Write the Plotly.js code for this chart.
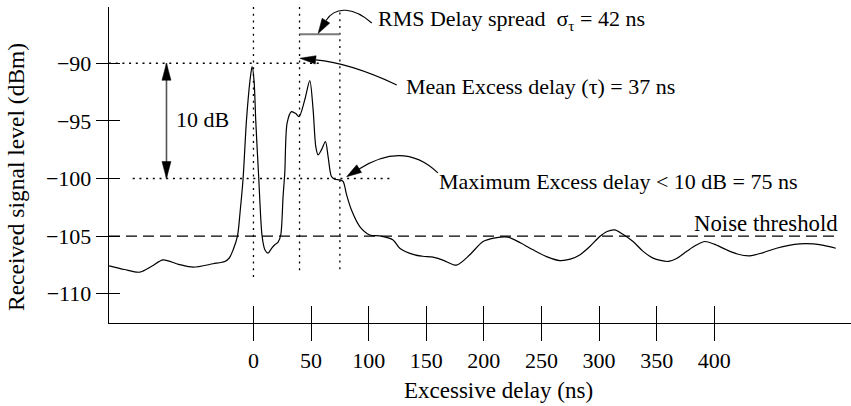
<!DOCTYPE html>
<html><head><meta charset="utf-8">
<script src="https://cdn.plot.ly/plotly-3.0.1.min.js"></script>
<style>html,body{margin:0;padding:0;background:#fff}</style>
</head><body><div id="chart" style="width:851px;height:406px"></div>
<script>
// ---- data ----
const delay = [-125.3, -112, -98.7, -88, -78.5, -65, -52.4, -35, -24.9, -21, -17.7, -13.9, -11.5, -9, -6.1, -3, -1.2, 0.5, 2, 4.6, 7.5, 10, 12.7, 15.5, 18.5, 21.4, 23.7, 25.7, 27.2, 29.2, 33, 36.5, 39.6, 44.5, 48.9, 51.8, 54.1, 56.1, 59, 62.5, 64.8, 67.7, 70.6, 74.9, 77.8, 80.8, 85, 92.3, 101, 109.6, 121.2, 127, 140, 147, 155.9, 165, 176.2, 188, 199.3, 210, 221, 232, 242.7, 255, 265.9, 275, 283.2, 292, 300.6, 307, 313.6, 320, 329.5, 338, 346.9, 359.9, 368, 375.9, 384, 391.8, 400, 410.6, 420, 430.8, 442, 454, 474.2, 485.8, 495, 505.5];
const level = [-107.58, -107.9, -108.13, -107.6, -107.06, -107.45, -107.7, -107.4, -107.2, -106.9, -106.2, -105.0, -102.8, -100.0, -95.0, -91.5, -90.3, -91.5, -95.0, -100.0, -105.0, -106.2, -106.47, -106.1, -105.75, -105.52, -104.89, -101.56, -99.5, -95.2, -94.2, -94.35, -94.63, -93.18, -91.5, -94.05, -97.23, -97.95, -97.52, -96.8, -98.1, -99.83, -100.06, -100.12, -100.26, -101.4, -102.72, -104.17, -104.9, -104.98, -105.33, -106.05, -106.63, -106.75, -106.83, -107.1, -107.52, -106.6, -105.47, -105.15, -105.09, -105.6, -106.19, -106.8, -107.12, -107.0, -106.63, -105.9, -105.04, -104.6, -104.46, -104.8, -105.47, -106.3, -106.91, -107.2, -106.9, -106.34, -105.8, -105.47, -105.7, -106.19, -106.55, -106.71, -106.45, -106.05, -105.67, -105.67, -105.8, -106.05];
const xTicks = [0, 50, 100, 150, 200, 250, 300, 350, 400];
const yTicks = [-110, -105, -100, -95, -90];
const noiseThreshold = -105;
const peakLevel = -90;
const tenDbLevel = -100;
const peakDelay = 0;
const meanDelayLine = 40;
const maxDelayLine = 75;
const rmsBarLevel = -87.48;
const xRange = [-125.4, 518.7];
const yRange = [-112.54, -85.12];

const W = 851, H = 406, M = {l: 109, r: 0, t: 7, b: 83};
const sx = (W - M.l - M.r) / (xRange[1] - xRange[0]);
const sy = (H - M.t - M.b) / (yRange[1] - yRange[0]);

const FONT = 'Liberation Serif, Times New Roman, serif';
const dotted = {color: 'black', width: 1.3, dash: '2px,4.7px'};

// filled arrowhead: tip at data (xd, yd), direction (dx, dy) in screen pixels
function head(xd, yd, dx, dy, len, hw) {
  const m = Math.hypot(dx, dy), ux = dx / m, uy = dy / m;
  const bx = -ux * len, by = -uy * len, nx = -uy, ny = ux;
  const pts = [[bx + nx * hw, by + ny * hw], [bx - nx * hw, by - ny * hw]]
    .map(p => [(xd + p[0] / sx).toFixed(3), (yd - p[1] / sy).toFixed(3)]);
  return {type: 'path', xref: 'x', yref: 'y', layer: 'above',
    path: `M${xd},${yd}L${pts[0][0]},${pts[0][1]}L${pts[1][0]},${pts[1][1]}Z`,
    fillcolor: 'black', line: {color: 'black', width: 0.5}};
}

const shapes = [
  {type: 'line', xref: 'x', yref: 'y', x0: xRange[0], x1: delay[delay.length - 1], y0: noiseThreshold, y1: noiseThreshold,
   line: {color: 'black', width: 1.1, dash: '11px,6px'}},
  {type: 'line', xref: 'x', yref: 'y', x0: peakDelay, x1: peakDelay, y0: yRange[1], y1: -108.6, line: dotted},
  {type: 'line', xref: 'x', yref: 'y', x0: meanDelayLine, x1: meanDelayLine, y0: yRange[1], y1: -108.0, line: dotted},
  {type: 'line', xref: 'x', yref: 'y', x0: maxDelayLine, x1: maxDelayLine, y0: -85.6, y1: -108.0, line: dotted},
  {type: 'line', xref: 'x', yref: 'y', x0: xRange[0], x1: 57.6, y0: peakLevel, y1: peakLevel, line: dotted},
  {type: 'line', xref: 'x', yref: 'y', x0: -104.8, x1: 121, y0: tenDbLevel, y1: tenDbLevel, line: dotted},
  {type: 'line', xref: 'x', yref: 'y', x0: meanDelayLine, x1: maxDelayLine, y0: rmsBarLevel, y1: rmsBarLevel,
   line: {color: '#7a7a7a', width: 2}},
  {type: 'line', xref: 'x', yref: 'y', x0: -75.5, x1: -75.5, y0: peakLevel, y1: tenDbLevel,
   line: {color: '#555', width: 1.6}},
  // curved leader lines
  {type: 'path', xref: 'x', yref: 'y', path: 'M102.7,-86.51 C88.0,-85.21 71.5,-84.94 63.0,-86.29',
   line: {color: 'black', width: 1.1}},
  {type: 'path', xref: 'x', yref: 'y', path: 'M124.4,-91.88 Q83.6,-89.97 54.0,-89.71',
   line: {color: 'black', width: 1.1}},
  {type: 'path', xref: 'x', yref: 'y', path: 'M160.1,-99.51 C137.5,-97.34 113.6,-97.78 91.7,-99.18',
   line: {color: 'black', width: 1.1}},
  head(-75.5, peakLevel, 0, -1, 17, 4.5),
  head(-75.5, tenDbLevel, 0, 1, 17, 4.5),
  head(56.1, -87.42, -8, 13, 15, 4.5),
  head(40.2, -89.57, -16.7, -1.7, 16, 4.2),
  head(80.8, -99.85, -14, 9, 15, 4.5)
];

const txt = (x, y, text) => ({xref: 'x', yref: 'y', x, y, text, showarrow: false, xanchor: 'left', yanchor: 'middle',
  font: {family: FONT, size: 22, color: 'black'}});

const annotations = [
  txt(-69.2, -94.92, '10 dB'),
  txt(106.8, -86.25, 'RMS Delay spread  σ<sub>τ</sub> = 42 ns'),
  txt(130.4, -92.03, 'Mean Excess delay (τ) = 37 ns'),
  txt(158.9, -100.26, 'Maximum Excess delay &lt; 10 dB = 75 ns'),
  Object.assign(txt(380.9, -103.87, 'Noise threshold'), {font: {family: FONT, size: 22.8, color: 'black'}}),
  {xref: 'paper', yref: 'paper', x: 0.5248, y: -0.214, text: 'Excessive delay (ns)', showarrow: false,
   xanchor: 'center', yanchor: 'middle', font: {family: FONT, size: 23, color: 'black'}},
  {xref: 'paper', yref: 'paper', x: -0.1244, y: 0.461, text: 'Received signal level (dBm)', showarrow: false,
   textangle: -90, xanchor: 'center', yanchor: 'middle', font: {family: FONT, size: 23.5, color: 'black'}}
];

const traces = [
  {type: 'scatter', mode: 'lines', x: delay, y: level, line: {color: 'black', width: 1.2, shape: 'spline', smoothing: 0.8},
   hoverinfo: 'skip', showlegend: false},
  {type: 'scatter', mode: 'none', x: [], y: [], xaxis: 'x2', yaxis: 'y2', hoverinfo: 'skip', showlegend: false}
];

const axBase = {showgrid: false, zeroline: false, fixedrange: true, tickcolor: 'black', tickwidth: 1.1, tickmode: 'array'};

const layout = {
  width: W, height: H, autosize: false,
  margin: Object.assign({pad: 0}, M),
  paper_bgcolor: 'white', plot_bgcolor: 'white',
  font: {family: FONT, size: 22, color: 'black'},
  showlegend: false,
  xaxis: Object.assign({}, axBase, {range: xRange, tickvals: xTicks, ticks: 'outside', ticklen: 17,
    showline: true, linecolor: 'black', linewidth: 1.3, tickfont: {family: FONT, size: 22, color: 'black'}}),
  yaxis: Object.assign({}, axBase, {range: yRange, tickvals: yTicks, ticks: 'outside', ticklen: 12,
    showline: true, linecolor: 'black', linewidth: 1.3, tickfont: {family: FONT, size: 22, color: 'black'}}),
  xaxis2: Object.assign({}, axBase, {range: xRange, tickvals: xTicks, ticks: 'inside', ticklen: 17,
    overlaying: 'x', anchor: 'y2', showticklabels: false, showline: false}),
  yaxis2: Object.assign({}, axBase, {range: yRange, tickvals: yTicks, ticks: 'inside', ticklen: 11,
    overlaying: 'y', anchor: 'x2', showticklabels: false, showline: false}),
  shapes, annotations
};

Plotly.newPlot('chart', traces, layout, {displayModeBar: false, staticPlot: true});
</script>
</body></html>
